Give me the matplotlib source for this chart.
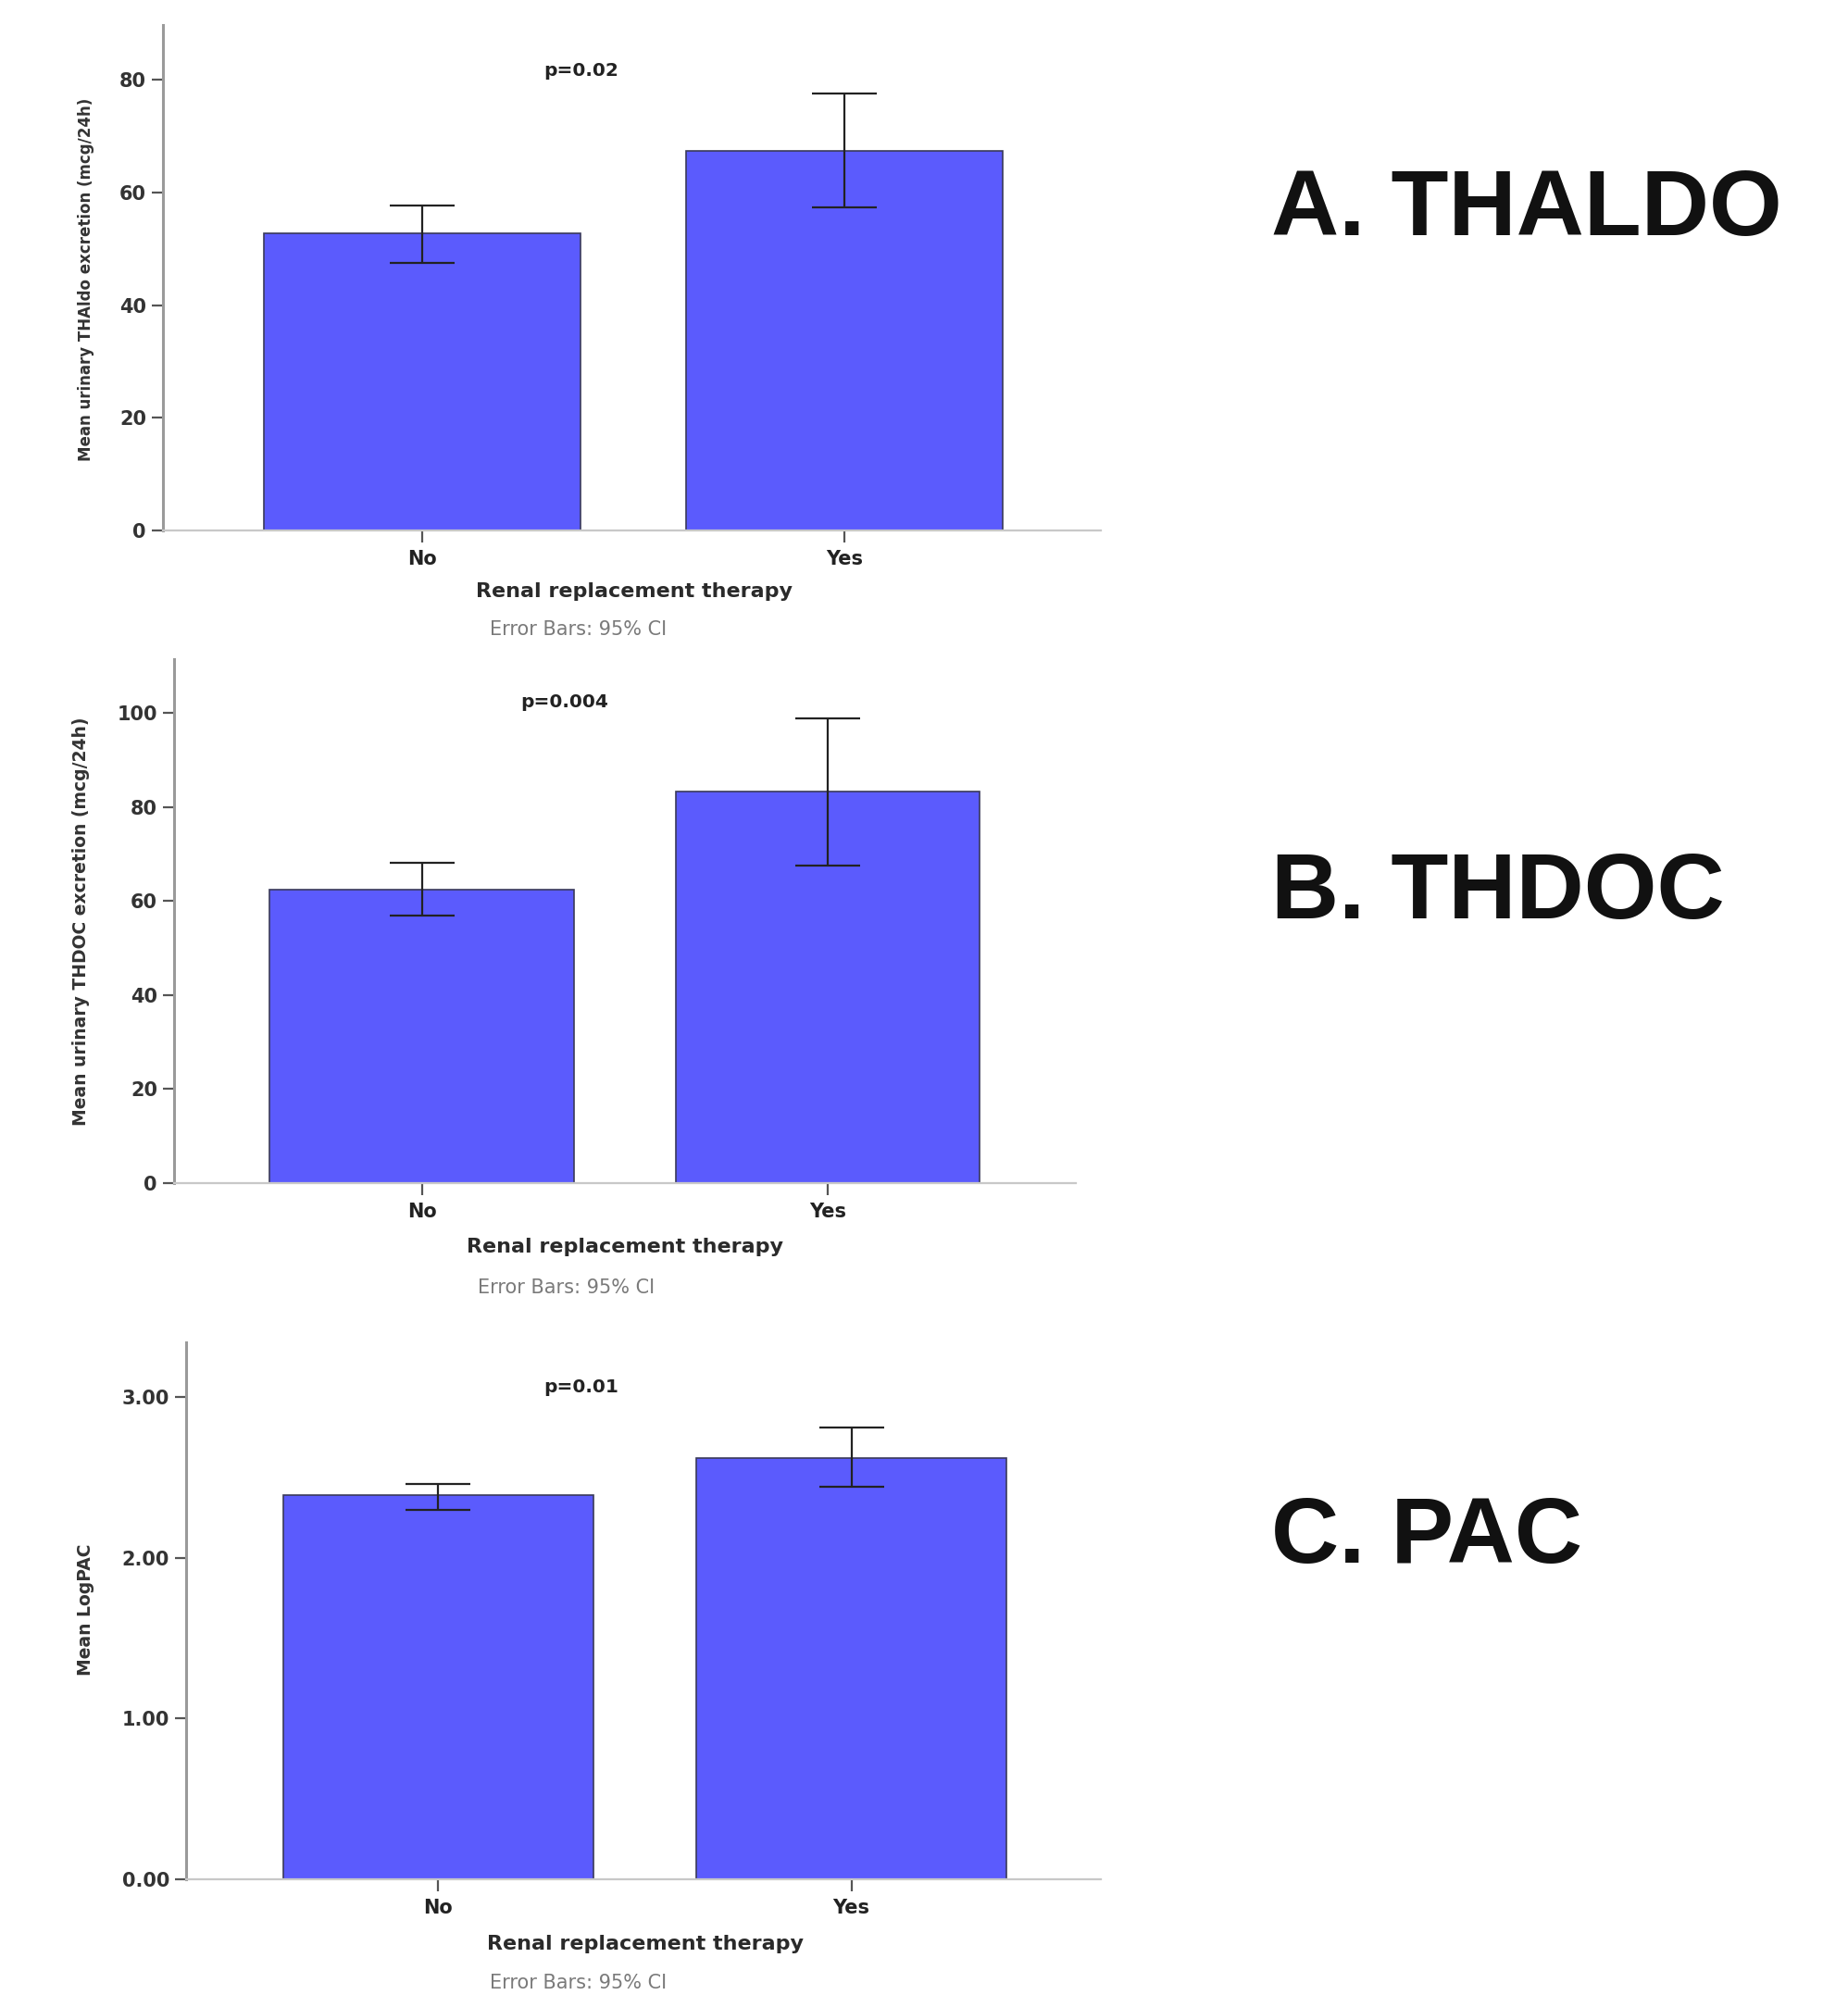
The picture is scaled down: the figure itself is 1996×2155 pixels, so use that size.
import numpy as np
import matplotlib
matplotlib.use("Agg")
import matplotlib.pyplot as plt

groups = ["No", "Yes"]

thaldo_mean = [52.7, 67.3]
thaldo_lo = [47.5, 57.4]
thaldo_hi = [57.6, 77.5]

thdoc_mean = [62.4, 83.2]
thdoc_lo = [56.8, 67.6]
thdoc_hi = [68.1, 98.9]

pac_mean = [2.39, 2.62]
pac_lo = [2.30, 2.44]
pac_hi = [2.46, 2.81]

W, H = 1996, 2155
fig = plt.figure(figsize=(W / 100, H / 100), dpi=100)
plt.rcParams['font.family'] = ['DejaVu Sans']

bar_color = '#5b5bfd'
axis_grey = '#9a9a9a'


def px(x, y):
    # figure pixel (from top-left) -> figure fraction
    return x / W, 1 - y / H


def panel(rect, means, lo, hi, ylim, yticks, yfmt, xlim, ylabel, ylab_xy,
          ylab_size, pval, p_xy, xlab_xy, err_xy, big, big_xy):
    l, t, r, b = rect
    ax = fig.add_axes([l / W, 1 - b / H, (r - l) / W, (b - t) / H])
    x = np.arange(len(groups))
    m = np.array(means)
    yerr = np.vstack([m - np.array(lo), np.array(hi) - m])
    ax.bar(x, m, width=0.75, color=bar_color, edgecolor='#3a3a5a',
           linewidth=1.2, zorder=2)
    ax.errorbar(x, m, yerr=yerr, fmt='none', ecolor='#222222',
                elinewidth=1.6, capsize=25, capthick=1.6, zorder=3)
    ax.set_xlim(*xlim)
    ax.set_ylim(*ylim)
    ax.set_yticks(yticks)
    ax.set_yticklabels([yfmt % v for v in yticks])
    ax.set_xticks(x)
    ax.set_xticklabels(groups)
    for s in ['top', 'right']:
        ax.spines[s].set_visible(False)
    ax.spines['left'].set_color(axis_grey)
    ax.spines['left'].set_linewidth(2.2)
    ax.spines['bottom'].set_color('#c8c8c8')
    ax.spines['bottom'].set_linewidth(1.6)
    ax.tick_params(axis='y', length=9, width=1.6, color='#555555', pad=4,
                   labelsize=15, labelcolor='#333333')
    ax.tick_params(axis='x', length=9, width=1.6, color='#555555', pad=6,
                   labelsize=15, labelcolor='#222222')
    for lab in ax.get_yticklabels() + ax.get_xticklabels():
        lab.set_fontweight('bold')

    fig.text(*px(*ylab_xy), ylabel, rotation=90, ha='center', va='center',
             fontsize=ylab_size, fontweight='bold', color='#333333')
    fig.text(*px(*p_xy), pval, ha='center', va='center', fontsize=14.5,
             fontweight='bold', color='#222222')
    fig.text(*px(*xlab_xy), "Renal replacement therapy", ha='center',
             va='center', fontsize=16, fontweight='bold', color='#2a2a2a')
    fig.text(*px(*err_xy), "Error Bars: 95% CI", ha='center', va='center',
             fontsize=15, color='#7a7a7a')
    fig.text(*px(*big_xy), big, ha='left', va='center', fontsize=73,
             fontweight='bold', family='Liberation Sans', color='#111111')
    return ax


panel((176, 27, 1189, 573), thaldo_mean, thaldo_lo, thaldo_hi,
      (0, 89.7), [0, 20, 40, 60, 80], '%d', (-0.613, 1.607),
      "Mean urinary THAldo excretion (mcg/24h)", (93, 302), 12,
      "p=0.02", (628, 76), (685, 639), (625, 680),
      "A. THALDO", (1373, 228))

panel((188, 712, 1162, 1278), thdoc_mean, thdoc_lo, thdoc_hi,
      (0, 111.4), [0, 20, 40, 60, 80, 100], '%d', (-0.611, 1.612),
      "Mean urinary THDOC excretion (mcg/24h)", (88, 995), 13.5,
      "p=0.004", (610, 759), (675, 1347), (612, 1391),
      "B. THDOC", (1373, 966))

panel((201, 1450, 1189, 2030), pac_mean, pac_lo, pac_hi,
      (0, 3.34), [0, 1, 2, 3], '%.2f', (-0.609, 1.603),
      "Mean LogPAC", (93, 1739), 13.5,
      "p=0.01", (628, 1498), (697, 2100), (625, 2142),
      "C. PAC", (1373, 1662))

fig.savefig("out.png", dpi=100, facecolor='white')
